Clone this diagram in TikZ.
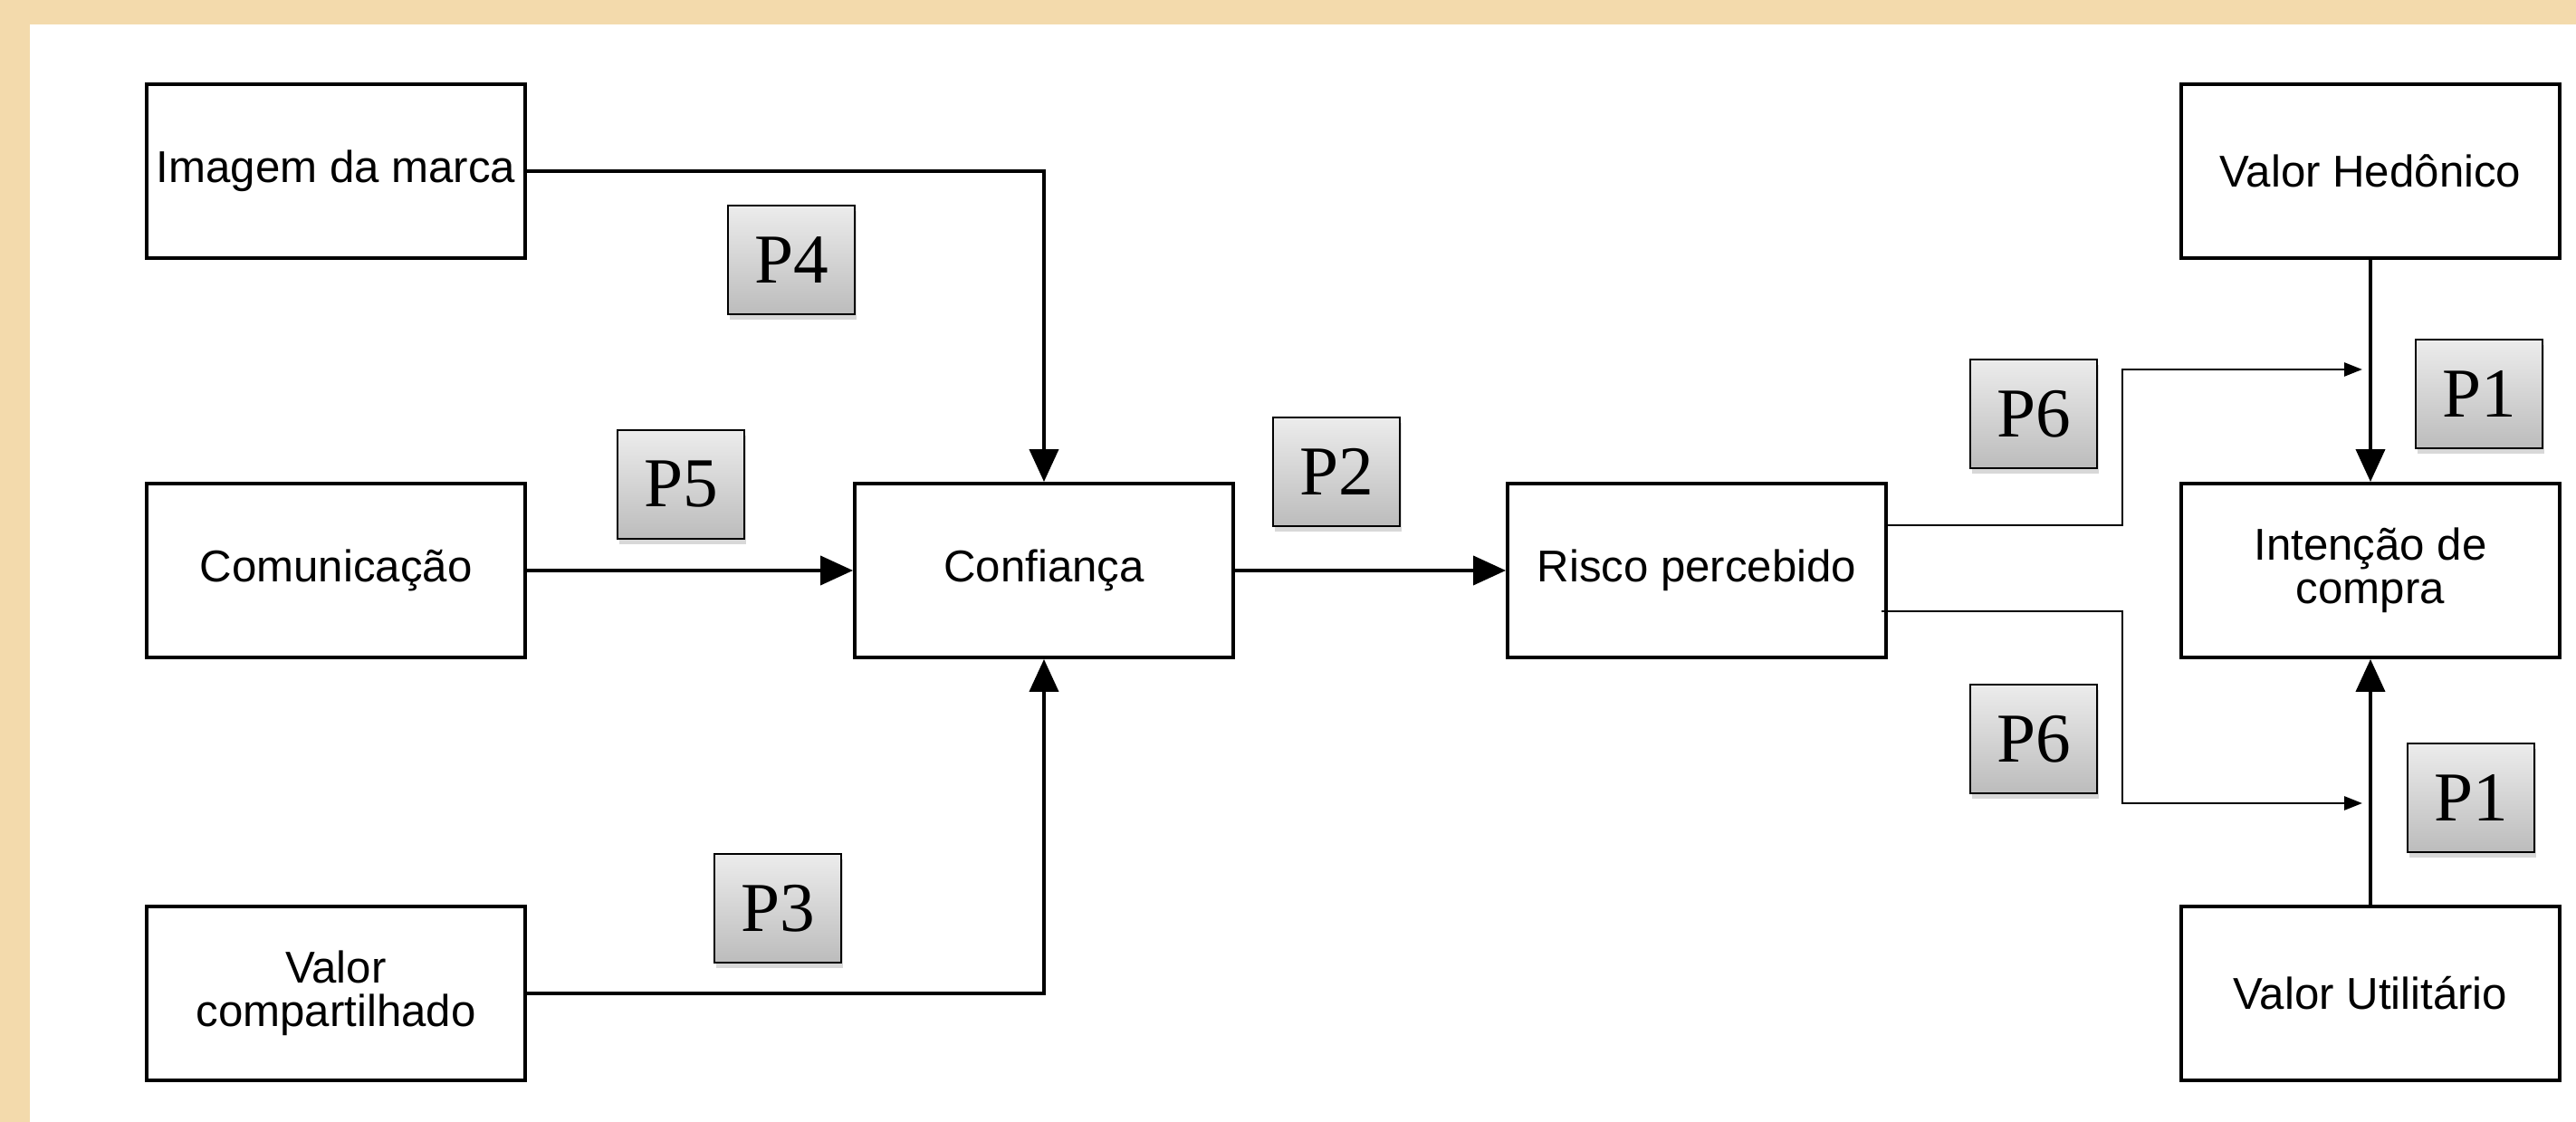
\documentclass[tikz,border=0pt]{standalone}
\usepackage{fontspec}
\setmainfont{Liberation Sans}
\newfontfamily\pfont{Liberation Serif}
\usetikzlibrary{arrows.meta,shadows}
\definecolor{paperbeige}{RGB}{243,218,172}
\definecolor{pgraytop}{RGB}{236,236,236}
\definecolor{pgraybot}{RGB}{188,188,188}
\tikzset{
    varbox/.style={draw, line width=1.1pt, minimum width=4.18cm, minimum height=1.92cm, align=center, inner sep=1pt, font=\fontsize{14}{13.5}\selectfont},
    plabel/.style={draw, line width=0.6pt, minimum width=1.40cm, minimum height=1.20cm, top color=pgraytop, bottom color=pgraybot, drop shadow={shadow xshift=0.5pt, shadow yshift=-1.8pt, opacity=0.3}, font=\pfont\fontsize{22}{22}\selectfont},
    bigarrow/.style={line width=1.1pt, -{Triangle[length=0.36cm,width=0.32cm]}},
    smallarrow/.style={line width=0.8pt, -{Triangle[length=0.2cm,width=0.15cm]}}
}

\begin{document}
\begin{tikzpicture}
    % Background
    \useasboundingbox (0,0) rectangle (28.45,12.39);
    \fill[paperbeige] (0,0) rectangle (28.45,12.39);
    \fill[white] (0.33,0) rectangle (28.45,12.12);

    % Left column
    \node[varbox] (imagem) at (3.71,10.50) {Imagem da marca};
    \node[varbox] (comunic) at (3.71,6.09) {Comunicação};
    \node[varbox] (valorcomp) at (3.71,1.42) {Valor\\compartilhado};

    % Middle
    \node[varbox] (confianca) at (11.53,6.09) {Confiança};
    \node[varbox] (risco) at (18.74,6.09) {Risco percebido};

    % Right column
    \node[varbox] (hedonico) at (26.18,10.50) {Valor Hedônico};
    \node[varbox] (intencao) at (26.18,6.09) {Intenção de\\compra};
    \node[varbox] (utilitario) at (26.18,1.42) {Valor Utilitário};

    % Into Confiança
    \draw[bigarrow] (imagem.east) -| (confianca.north);
    \draw[bigarrow] (comunic) -- (confianca);
    \draw[bigarrow] (valorcomp.east) -| (confianca.south);
    \draw[bigarrow] (confianca) -- (risco);

    % Into Intenção de compra
    \draw[bigarrow] (hedonico) -- (intencao);
    \draw[bigarrow] (utilitario) -- (intencao);

    % Risco percebido to the P1 arrows
    \coordinate (p6top) at (26.09,8.31);
    \coordinate (p6bot) at (26.09,3.52);
    \draw[smallarrow] ([yshift=0.5cm]risco.east) -| ([xshift=-2.65cm]p6top) -- (p6top);
    \draw[smallarrow] ([xshift=-0.07cm,yshift=-0.45cm]risco.east) -| ([xshift=-2.65cm]p6bot) -- (p6bot);

    % Labels
    \node[plabel] (p4) at (8.74,9.52) {P4};
    \node[plabel] (p5) at (7.52,7.04) {P5};
    \node[plabel] (p2) at (14.76,7.18) {P2};
    \node[plabel] (p3) at (8.59,2.36) {P3};
    \node[plabel] (p6a) at (22.46,7.82) {P6};
    \node[plabel] (p6b) at (22.46,4.23) {P6};
    \node[plabel] (p1a) at (27.38,8.04) {P1};
    \node[plabel] (p1b) at (27.29,3.58) {P1};
\end{tikzpicture}
\end{document}
